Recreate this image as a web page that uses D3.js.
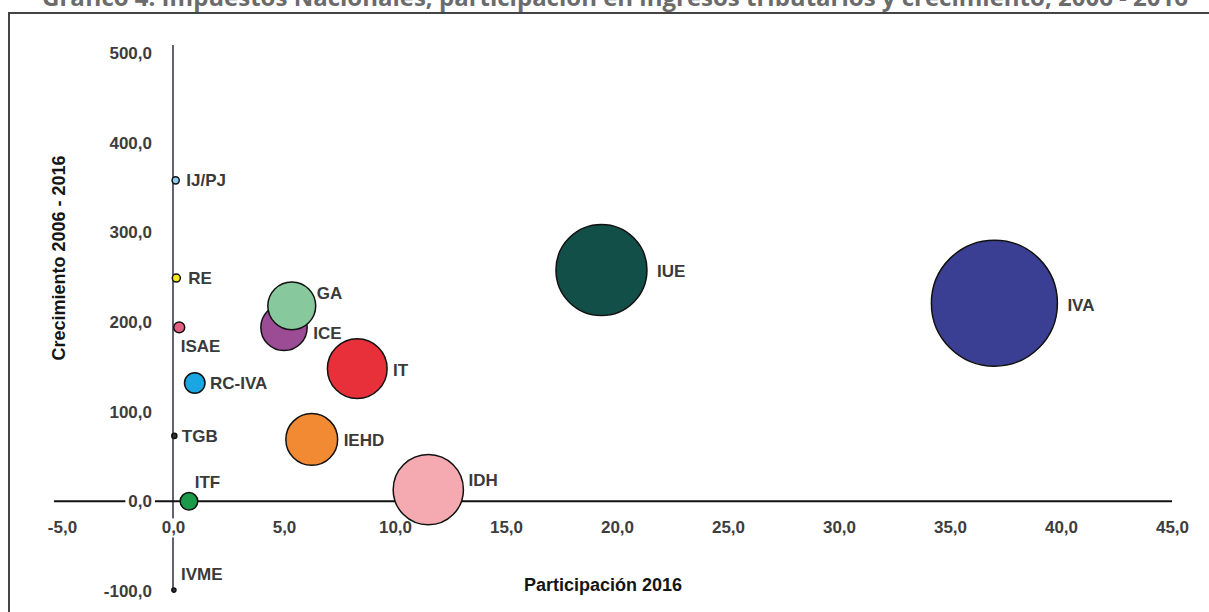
<!DOCTYPE html>
<html>
<head>
<meta charset="utf-8">
<script src="https://cdn.jsdelivr.net/npm/d3@7"></script>
<style>
  html, body { margin: 0; padding: 0; background: #fff; overflow: hidden; }
  svg { display: block; font-family: "Liberation Sans", Arial, sans-serif; }
</style>
</head>
<body>
<svg id="svgBubble"></svg>
<script>
var width = 1209, height = 612

// datos
var impuestos = ["IVA", "IUE", "IDH", "IT", "IEHD", "ICE", "GA", "RC-IVA", "ITF", "ISAE", "RE", "IJ/PJ", "TGB", "IVME"]
var participacion = [37.0, 19.3, 11.5, 8.3, 6.25, 5.0, 5.35, 0.98, 0.72, 0.28, 0.15, 0.12, 0.06, 0.04]
var crecimiento = [221, 258, 13, 148, 69, 194, 218, 132, 0, 194, 249, 358, 73, -99]
var colores = ["#3b3f93", "#124f49", "#f4aab0", "#e8303a", "#f28a33", "#9c4c95", "#87c99c", "#1aa6e2", "#1b9a4a", "#e25f80", "#f5e81c", "#8fcdee", "#333333", "#333333"]
var xTicks = [-5, 0, 5, 10, 15, 20, 25, 30, 35, 40, 45]
var yTicks = [-100, 0, 100, 200, 300, 400, 500]

var datos = impuestos.map(function(d, i){
    return {name: d, x: participacion[i], y: crecimiento[i], color: colores[i]}
})

// ajustes de posicion de las etiquetas [dx desde el borde, dy]
var labelNudge = {
    "IVA": [10, 2], "IUE": [10, 1], "IDH": [5, -10], "IT": [6, 1], "IEHD": [6, 0],
    "ICE": [6, 5], "GA": [1, -13], "RC-IVA": [5, 0], "ITF": [-3, -19], "ISAE": [-4, 18],
    "RE": [8, 0], "IJ/PJ": [7, 0], "TGB": [5, 0], "IVME": [5, -16]
}

var locale = d3.formatLocale({decimal: ",", thousands: ".", grouping: [3], currency: ["", ""], minus: "-"})
var fmt = locale.format(".1f")

var svg = d3.select("svg#svgBubble")
    .attr("width", width)
    .attr("height", height)

// titulo (cortado arriba, como en el original)
svg.append("text")
    .attr("x", 42)
    .attr("y", 6)
    .attr("font-family", "'Open Sans', sans-serif")
    .attr("font-weight", "bold")
    .attr("font-size", "24px")
    .attr("fill", "#6b6b6b")
    .text("Gráfico 4: Impuestos Nacionales, participación en ingresos tributarios y crecimiento, 2006 - 2016")

// marco
svg.append("rect")
    .attr("x", 9)
    .attr("y", 13)
    .attr("width", 1220)
    .attr("height", 640)
    .attr("fill", "none")
    .attr("stroke", "#444")
    .attr("stroke-width", 2)

var xScale = d3.scaleLinear().domain([-5, 45]).range([62, 1172]),
    yScale = d3.scaleLinear().domain([-100, 500]).range([591, 53]),
    rScale = d3.scaleSqrt().domain([0, 37]).range([0, 63])

// lineas de ejes
svg.append("line")
    .attr("x1", xScale(0)).attr("x2", xScale(0))
    .attr("y1", 45).attr("y2", yScale(-100))
    .attr("stroke", "#3a3a4e")
    .attr("stroke-width", 1.6)

svg.append("line")
    .attr("x1", 54).attr("x2", xScale(45))
    .attr("y1", yScale(0)).attr("y2", yScale(0))
    .attr("stroke", "#111")
    .attr("stroke-width", 2)

var xAxis = svg.append("g")
    .attr("transform", "translate(0," + yScale(0) + ")")
    .call(d3.axisBottom(xScale).tickValues(xTicks).tickFormat(fmt).tickSize(0).tickPadding(20))

var yAxis = svg.append("g")
    .attr("transform", "translate(" + xScale(0) + ",0)")
    .call(d3.axisLeft(yScale).tickValues(yTicks).tickFormat(fmt).tickSize(0).tickPadding(21))

;[xAxis, yAxis].forEach(function(ax){
    ax.select(".domain").remove()
    ax.selectAll("text")
        .attr("font-family", "'Liberation Sans', Arial, sans-serif")
        .attr("font-weight", "bold")
        .attr("font-size", "17px")
        .attr("fill", "#3d3d3d")
    ax.selectAll(".tick").each(function(){
        var t = d3.select(this).select("text").node().getBBox()
        d3.select(this).insert("rect", "text")
            .attr("x", t.x - 3).attr("y", t.y)
            .attr("width", t.width + 6).attr("height", t.height)
            .attr("fill", "#fff")
    })
})

// titulos de ejes
svg.append("text")
    .attr("x", 603)
    .attr("y", 591)
    .attr("text-anchor", "middle")
    .attr("font-weight", "bold")
    .attr("font-size", "18px")
    .attr("fill", "#151515")
    .text("Participación 2016")

svg.append("text")
    .attr("transform", "translate(65,258) rotate(-90)")
    .attr("text-anchor", "middle")
    .attr("font-weight", "bold")
    .attr("font-size", "18px")
    .attr("fill", "#151515")
    .text("Crecimiento 2006 - 2016")

// burbujas
svg.selectAll("circle.burbuja")
    .data(datos)
    .enter()
    .append("circle")
    .attr("class", "burbuja")
    .attr("cx", function(d){ return xScale(d.x) })
    .attr("cy", function(d){ return yScale(d.y) })
    .attr("r", function(d){ return rScale(d.x) })
    .attr("fill", function(d){ return d.color })
    .attr("stroke", "#111")
    .attr("stroke-width", 1.5)

svg.selectAll("text.etiqueta")
    .data(datos)
    .enter()
    .append("text")
    .attr("class", "etiqueta")
    .attr("x", function(d){ return xScale(d.x) + rScale(d.x) + labelNudge[d.name][0] })
    .attr("y", function(d){ return yScale(d.y) + labelNudge[d.name][1] })
    .attr("dy", "0.36em")
    .attr("font-weight", "bold")
    .attr("font-size", "17px")
    .attr("fill", "#3a3a3a")
    .text(function(d){ return d.name })
</script>
</body>
</html>
